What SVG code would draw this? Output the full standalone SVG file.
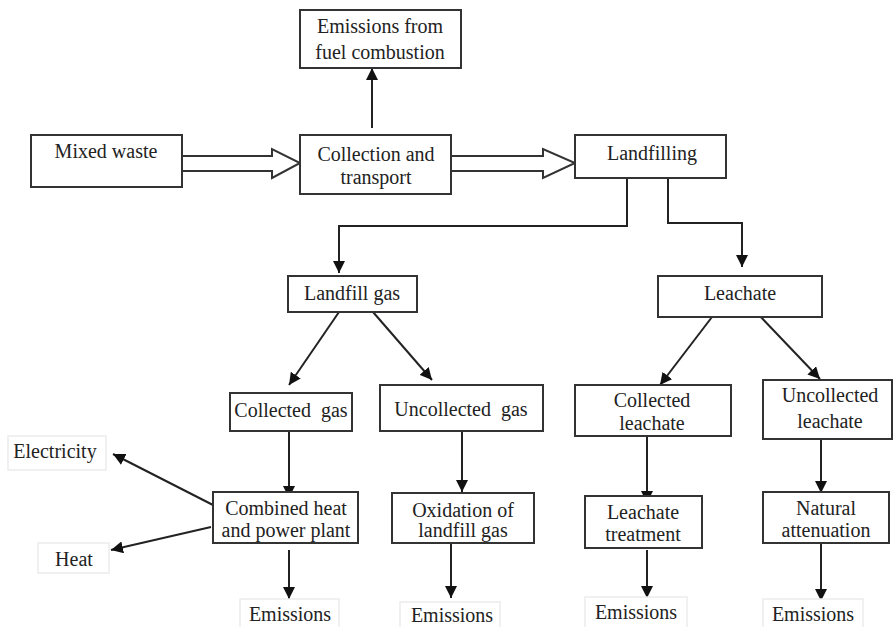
<svg xmlns="http://www.w3.org/2000/svg" width="893" height="627" viewBox="0 0 893 627">
<defs>
<style>
.box{fill:#fff;stroke:#333;stroke-width:2}
.lbl{fill:#fff;stroke:#ececec;stroke-width:1.5}
text{font-family:'Liberation Serif','Times New Roman',Tinos,'DejaVu Serif',serif;font-size:20px;fill:#222;text-anchor:middle}
.c{fill:none;stroke:#222;stroke-width:2}
.hollow{fill:#fff;stroke:#333;stroke-width:2;stroke-linejoin:miter}
</style>
<marker id="ah" markerUnits="userSpaceOnUse" markerWidth="12" markerHeight="12" refX="12" refY="6" orient="auto">
<path d="M0,0 L12,6 L0,12 z" fill="#111"/>
</marker>
</defs>
<rect width="893" height="627" fill="#fff"/>

<g id="connectors">
<polygon class="hollow" points="182,156 272,156 272,149 300,163 272,178 272,171 182,171"/>
<polygon class="hollow" points="451,156 543,156 543,149 575,163 543,178 543,171 451,171"/>
<line class="c" x1="372" y1="128" x2="372" y2="68" marker-end="url(#ah)"/>
<polyline class="c" points="627,178 627,226 339,226 339,273" marker-end="url(#ah)"/>
<polyline class="c" points="668,178 668,223 742,223 742,267" marker-end="url(#ah)"/>
<line class="c" x1="339" y1="312" x2="289" y2="385" marker-end="url(#ah)"/>
<line class="c" x1="373" y1="312" x2="432" y2="380" marker-end="url(#ah)"/>
<line class="c" x1="712" y1="317" x2="660" y2="385" marker-end="url(#ah)"/>
<line class="c" x1="756" y1="312" x2="820" y2="379" marker-end="url(#ah)"/>
<line class="c" x1="289" y1="428" x2="289" y2="498" marker-end="url(#ah)"/>
<line class="c" x1="462" y1="431" x2="462" y2="492" marker-end="url(#ah)"/>
<line class="c" x1="647" y1="430" x2="647" y2="503" marker-end="url(#ah)"/>
<line class="c" x1="821" y1="439" x2="821" y2="493" marker-end="url(#ah)"/>
<line class="c" x1="213" y1="505" x2="113" y2="454" marker-end="url(#ah)"/>
<line class="c" x1="211" y1="527" x2="111" y2="550" marker-end="url(#ah)"/>
<line class="c" x1="289" y1="550" x2="289" y2="599" marker-end="url(#ah)"/>
<line class="c" x1="451" y1="540" x2="451" y2="598" marker-end="url(#ah)"/>
<line class="c" x1="647" y1="550" x2="647" y2="598" marker-end="url(#ah)"/>
<line class="c" x1="821" y1="543" x2="821" y2="601" marker-end="url(#ah)"/>
</g>

<g id="emissions-fuel">
<rect class="box" x="300" y="10" width="161" height="58"/>
<text x="380" y="33">Emissions from</text>
<text x="380" y="59">fuel combustion</text>
</g>
<g id="mixed-waste">
<rect class="box" x="31" y="135" width="151" height="52"/>
<text x="106" y="158">Mixed waste</text>
</g>
<g id="collection">
<rect class="box" x="300" y="135" width="151" height="59"/>
<text x="376" y="161">Collection and</text>
<text x="376" y="184">transport</text>
</g>
<g id="landfilling">
<rect class="box" x="575" y="135" width="151" height="43"/>
<text x="652" y="160">Landfilling</text>
</g>
<g id="landfill-gas">
<rect class="box" x="288" y="276" width="129" height="36"/>
<text x="352" y="300">Landfill gas</text>
</g>
<g id="leachate">
<rect class="box" x="658" y="276" width="164" height="41"/>
<text x="740" y="300">Leachate</text>
</g>
<g id="collected-gas">
<rect class="box" x="230" y="393" width="122" height="38"/>
<text x="291" y="417" xml:space="preserve">Collected  gas</text>
</g>
<g id="uncollected-gas">
<rect class="box" x="380" y="385" width="163" height="46"/>
<text x="461" y="416" xml:space="preserve">Uncollected  gas</text>
</g>
<g id="collected-leachate">
<rect class="box" x="575" y="385" width="156" height="51"/>
<text x="652" y="407">Collected</text>
<text x="652" y="430">leachate</text>
</g>
<g id="uncollected-leachate">
<rect class="box" x="763" y="380" width="129" height="59"/>
<text x="830" y="402">Uncollected</text>
<text x="830" y="428">leachate</text>
</g>
<g id="electricity">
<rect class="lbl" x="8" y="436" width="98" height="34"/>
<text x="55" y="458">Electricity</text>
</g>
<g id="heat">
<rect class="lbl" x="38" y="543" width="71" height="30"/>
<text x="74" y="566">Heat</text>
</g>
<g id="chp">
<rect class="box" x="213" y="492" width="145" height="51"/>
<text x="286" y="515">Combined heat</text>
<text x="286" y="537">and power plant</text>
</g>
<g id="oxidation">
<rect class="box" x="392" y="493" width="142" height="50"/>
<text x="463" y="517">Oxidation of</text>
<text x="463" y="537">landfill gas</text>
</g>
<g id="leachate-treatment">
<rect class="box" x="585" y="496" width="117" height="52"/>
<text x="643" y="519">Leachate</text>
<text x="643" y="541">treatment</text>
</g>
<g id="natural-attenuation">
<rect class="box" x="763" y="492" width="126" height="51"/>
<text x="826" y="515">Natural</text>
<text x="826" y="537">attenuation</text>
</g>
<g id="emissions-1">
<rect class="lbl" x="240" y="599" width="99" height="30"/>
<text x="290" y="621">Emissions</text>
</g>
<g id="emissions-2">
<rect class="lbl" x="400" y="602" width="100" height="30"/>
<text x="452" y="622">Emissions</text>
</g>
<g id="emissions-3">
<rect class="lbl" x="585" y="597" width="102" height="32"/>
<text x="636" y="619">Emissions</text>
</g>
<g id="emissions-4">
<rect class="lbl" x="763" y="599" width="100" height="30"/>
<text x="813" y="621">Emissions</text>
</g>
</svg>
